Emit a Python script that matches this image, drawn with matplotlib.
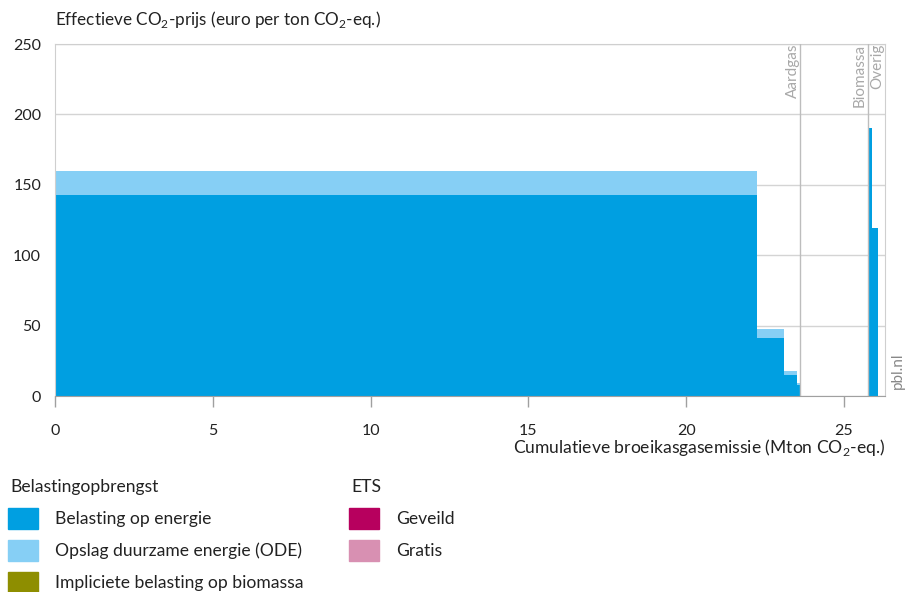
import numpy as np
import matplotlib
matplotlib.use('Agg')
import matplotlib.pyplot as plt
from matplotlib.patches import Rectangle

plt.rcParams['font.family'] = ['Lato', 'DejaVu Sans']
plt.rcParams['mathtext.fontset'] = 'custom'
plt.rcParams['mathtext.rm'] = 'Lato'

# Segmenten: breedte (Mton CO2-eq.) en effectieve prijs per component
groepen = ['Aardgas'] * 4 + ['Biomassa'] + ['Overig'] * 3
breedtes = [22.25, 0.85, 0.40, 0.12, 2.14, 0.03, 0.10, 0.18]
energie = [143, 41.5, 15, 8, 0, 0, 190.5, 119]
ode = [16.5, 6.2, 3, 1.3, 0, 0, 0, 0]
biomassa = [0, 0, 0, 0, 0, 0, 0, 0]

xticks = [0, 5, 10, 15, 20, 25]
yticks = [0, 50, 100, 150, 200, 250]

kleuren = {
    'Belasting op energie': '#009fe1',
    'Opslag duurzame energie (ODE)': '#86cff5',
    'Impliciete belasting op biomassa': '#8e8e00',
    'Geveild': '#b7005e',
    'Gratis': '#d890b2',
}

fig = plt.figure(figsize=(9.06, 5.92), dpi=100)
ax = fig.add_axes([55 / 906, 1 - 396 / 592, 830 / 906, 352 / 592])

links = np.concatenate([[0], np.cumsum(breedtes)[:-1]])
ax.bar(links, energie, width=breedtes, align='edge',
       color=kleuren['Belasting op energie'], linewidth=0, zorder=2)
ax.bar(links, ode, width=breedtes, bottom=energie, align='edge',
       color=kleuren['Opslag duurzame energie (ODE)'], linewidth=0, zorder=2)
ax.bar(links, biomassa, width=breedtes, bottom=np.add(energie, ode), align='edge',
       color=kleuren['Impliciete belasting op biomassa'], linewidth=0, zorder=2)

ax.set_xlim(0, 26.3)
ax.set_ylim(0, 250)
ax.set_xticks(xticks)
ax.set_yticks(yticks)
ax.yaxis.grid(True, color='#d4d4d4', linewidth=1, zorder=0)
ax.set_axisbelow(True)

for kant in ['left', 'top', 'right']:
    ax.spines[kant].set_color('#cfcfcf')
ax.spines['bottom'].set_color('#a0a0a0')
ax.spines['bottom'].set_zorder(3)

ax.tick_params(axis='y', length=0, pad=10, labelsize=11.5, labelcolor='#222222')
ax.tick_params(axis='x', length=8, width=1, color='#a0a0a0', pad=12,
               labelsize=11.5, labelcolor='#222222')

# groepsgrenzen en labels
rechts = np.cumsum(breedtes)
namen = list(dict.fromkeys(groepen))
grenzen = []
for naam in namen:
    idx = [i for i, g in enumerate(groepen) if g == naam]
    grenzen.append((links[idx[0]], rechts[idx[-1]]))
for i, (naam, (a, b)) in enumerate(zip(namen, grenzen)):
    if i < len(namen) - 1:
        ax.axvline(b, color='#bdbdbd', linewidth=1.0, zorder=3)
        ax.text(b - 0.25, 250, naam, rotation=90, ha='center', va='top',
                fontsize=11, color='#a8a8a8', clip_on=True)
    else:
        ax.text(a + 0.28, 250, naam, rotation=90, ha='center', va='top',
                fontsize=11, color='#a8a8a8', clip_on=True)

fig.text(55 / 906, 1 - 20 / 592,
         'Effectieve CO$_{\\rm 2}$-prijs (euro per ton CO$_{\\rm 2}$-eq.)',
         ha='left', va='center', fontsize=12.3, color='#222222')
fig.text(885 / 906, 1 - 448 / 592,
         'Cumulatieve broeikasgasemissie (Mton CO$_{\\rm 2}$-eq.)',
         ha='right', va='center', fontsize=12.6, color='#222222')
fig.text(898 / 906, 1 - 371 / 592, 'pbl.nl', rotation=90, ha='center',
         va='center', fontsize=11, color='#888888')

# legenda
def legenda(x, y0, kop, items):
    fig.text(x / 906, 1 - y0 / 592, kop, ha='left', va='center',
             fontsize=12.6, color='#222222')
    for j, item in enumerate(items):
        y = y0 + 32 * (j + 1)
        fig.patches.append(Rectangle((x / 906 - 2 / 906, 1 - (y + 10) / 592),
                                     30 / 906, 21 / 592,
                                     transform=fig.transFigure,
                                     color=kleuren[item]))
        fig.text((x + 45) / 906, 1 - y / 592, item, ha='left', va='center',
                 fontsize=12.6, color='#222222')

legenda(10, 487, 'Belastingopbrengst',
        ['Belasting op energie', 'Opslag duurzame energie (ODE)',
         'Impliciete belasting op biomassa'])
legenda(351, 487, 'ETS', ['Geveild', 'Gratis'])

fig.savefig('out.png', dpi=100)
